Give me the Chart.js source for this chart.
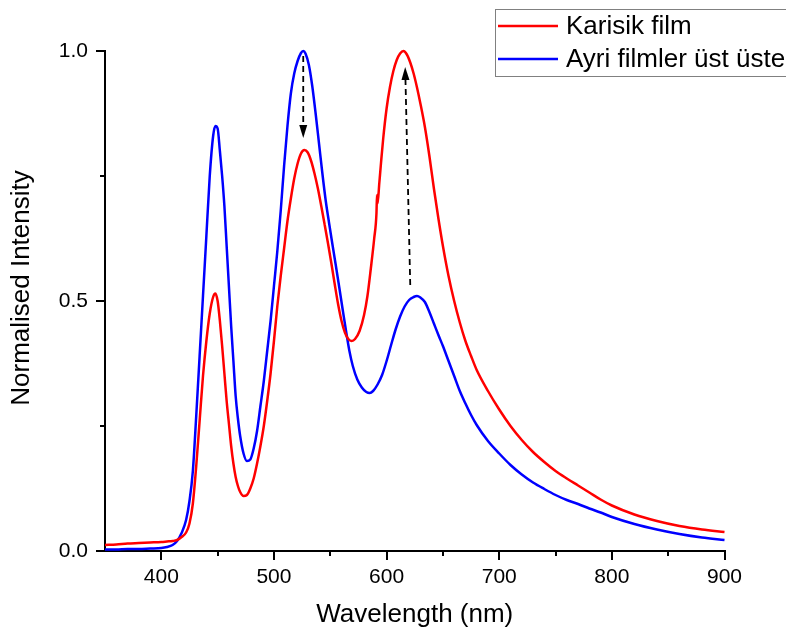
<!DOCTYPE html>
<html>
<head>
<meta charset="utf-8">
<script src="https://cdn.jsdelivr.net/npm/chart.js@4.4.1/dist/chart.umd.min.js"></script>
<style>
  html, body { margin: 0; padding: 0; background: #fff; }
  #wrap { width: 786px; height: 630px; position: relative; }
</style>
</head>
<body>
<div id="wrap"><canvas id="c" width="786" height="630"></canvas></div>
<script>
// ---- data ----
const seriesNames = ["Karisik film", "Ayri filmler üst üste"];
const xTitle = "Wavelength (nm)";
const yTitle = "Normalised Intensity";
const xTickValues = [400, 500, 600, 700, 800, 900];
const yTickValues = [0, 0.5, 1.0];

const wavelengthBlue = [350,360,370,380,390,400,405,410,414,418,422,425,428,431,434,437,440,443,446,448,450,452,454,456,458,460,462,464,466,468,470,473,476,479,482,485,488,491,494,497,500,503,506,509,512,515,518,521,524,526,528,531,534,537,540,543,546,549,552,555,558,561,564,567,570,574,578,582,585,588,592,596,600,604,608,612,616,620,624,627,630,634,638,642,646,650,655,660,665,670,675,680,690,700,710,720,730,740,750,760,770,780,790,800,820,840,860,880,900];
const blueValues = [0.003,0.003,0.004,0.004,0.005,0.006,0.008,0.012,0.02,0.036,0.062,0.10,0.16,0.27,0.39,0.51,0.63,0.75,0.83,0.85,0.845,0.80,0.75,0.69,0.61,0.53,0.45,0.38,0.31,0.265,0.23,0.195,0.18,0.183,0.205,0.24,0.29,0.34,0.40,0.46,0.53,0.60,0.68,0.77,0.85,0.915,0.955,0.98,0.996,1.0,0.995,0.972,0.93,0.875,0.815,0.755,0.70,0.655,0.612,0.57,0.527,0.483,0.44,0.40,0.37,0.343,0.327,0.318,0.316,0.32,0.333,0.352,0.38,0.412,0.443,0.469,0.489,0.502,0.508,0.51,0.507,0.498,0.478,0.455,0.432,0.41,0.38,0.35,0.32,0.295,0.272,0.252,0.22,0.195,0.172,0.153,0.137,0.124,0.112,0.102,0.094,0.085,0.077,0.068,0.054,0.043,0.034,0.027,0.022];

const wavelengthRed = [350,360,370,380,390,400,405,410,414,418,422,425,428,431,434,437,440,443,446,448,450,452,454,456,458,460,462,464,466,468,470,473,476,479,482,485,488,491,494,497,500,503,506,509,512,515,518,521,524,527,530,533,536,539,542,545,548,551,554,557,560,563,566,569,572,576,580,583,586,589,591,591.5,592,593.5,595,597,600,603,606,609,612,615,618,621,624,627,630,634,638,642,646,650,655,660,665,670,675,680,690,700,710,720,730,740,750,760,770,780,790,800,820,840,860,880,900];
const redValues = [0.012,0.013,0.015,0.016,0.017,0.018,0.019,0.02,0.022,0.028,0.037,0.055,0.095,0.17,0.26,0.35,0.42,0.475,0.508,0.515,0.50,0.46,0.41,0.355,0.30,0.255,0.21,0.175,0.148,0.13,0.118,0.11,0.112,0.125,0.145,0.175,0.21,0.25,0.30,0.355,0.42,0.49,0.55,0.605,0.66,0.705,0.745,0.775,0.795,0.802,0.797,0.78,0.755,0.725,0.69,0.653,0.615,0.575,0.533,0.493,0.46,0.437,0.424,0.42,0.424,0.44,0.472,0.51,0.565,0.625,0.675,0.712,0.695,0.735,0.775,0.825,0.885,0.928,0.96,0.982,0.995,1.0,0.993,0.977,0.955,0.927,0.895,0.848,0.79,0.725,0.665,0.61,0.55,0.50,0.457,0.42,0.39,0.362,0.32,0.283,0.25,0.222,0.198,0.178,0.16,0.145,0.131,0.117,0.103,0.091,0.073,0.06,0.05,0.043,0.038];

// arrows: [xStart, yStart, xEnd(tip), yEnd(tip)] in data units
const arrowDown = [526, 0.99, 526, 0.826];
const arrowUp = [621, 0.532, 616.5, 0.968];

const FONT = "'Liberation Sans', Arial, sans-serif";

const minorTicks = {
  id: 'minorTicks',
  afterDraw(chart) {
    const {ctx, scales: {x, y}} = chart;
    ctx.save();
    ctx.strokeStyle = '#000';
    ctx.lineWidth = 2;
    [450, 550, 650, 750, 850].forEach(v => {
      const px = Math.round(x.getPixelForValue(v));
      ctx.beginPath(); ctx.moveTo(px, y.bottom); ctx.lineTo(px, y.bottom + 5); ctx.stroke();
    });
    [0.25, 0.75].forEach(v => {
      const py = Math.round(y.getPixelForValue(v));
      ctx.beginPath(); ctx.moveTo(x.left, py); ctx.lineTo(x.left - 5, py); ctx.stroke();
    });
    // y axis title
    ctx.fillStyle = '#000';
    ctx.font = '26px ' + FONT;
    ctx.textAlign = 'center';
    ctx.textBaseline = 'middle';
    ctx.translate(22, 288);
    ctx.rotate(-Math.PI / 2);
    ctx.fillText(yTitle, 0, 0);
    ctx.restore();
  }
};

function drawArrow(ctx, x, y, a) {
  const x0 = x.getPixelForValue(a[0]), y0 = y.getPixelForValue(a[1]);
  const x1 = x.getPixelForValue(a[2]), y1 = y.getPixelForValue(a[3]);
  const ang = Math.atan2(y1 - y0, x1 - x0);
  const headLen = 13, headHalf = 4;
  const bx = x1 - headLen * Math.cos(ang), by = y1 - headLen * Math.sin(ang);
  ctx.save();
  ctx.strokeStyle = '#000';
  ctx.lineWidth = 1.8;
  ctx.setLineDash([6, 4]);
  ctx.beginPath(); ctx.moveTo(x0, y0); ctx.lineTo(bx, by); ctx.stroke();
  ctx.setLineDash([]);
  ctx.fillStyle = '#000';
  ctx.beginPath();
  ctx.moveTo(x1, y1);
  ctx.lineTo(bx + headHalf * Math.sin(ang), by - headHalf * Math.cos(ang));
  ctx.lineTo(bx - headHalf * Math.sin(ang), by + headHalf * Math.cos(ang));
  ctx.closePath(); ctx.fill();
  ctx.restore();
}

const overlays = {
  id: 'overlays',
  afterDatasetsDraw(chart) {
    const {ctx, scales: {x, y}} = chart;
    drawArrow(ctx, x, y, arrowDown);
    drawArrow(ctx, x, y, arrowUp);
    // legend box
    ctx.save();
    ctx.fillStyle = '#fff';
    ctx.fillRect(495.5, 9.5, 300, 67);
    ctx.strokeStyle = '#808080';
    ctx.lineWidth = 1;
    ctx.strokeRect(495.5, 9.5, 300, 67);
    const colors = ['#ff0000', '#0000ff'];
    const rows = [26, 59];
    ctx.font = '26px ' + FONT;
    ctx.textAlign = 'left';
    ctx.textBaseline = 'middle';
    seriesNames.forEach((n, i) => {
      ctx.strokeStyle = colors[i];
      ctx.lineWidth = 2.5;
      ctx.beginPath(); ctx.moveTo(498, rows[i]); ctx.lineTo(558, rows[i]); ctx.stroke();
      ctx.fillStyle = '#000';
      ctx.fillText(n, 566, rows[i] + 1);
    });
    ctx.restore();
  }
};

new Chart(document.getElementById('c'), {
  type: 'line',
  data: {
    datasets: [
      {
        label: seriesNames[0],
        data: wavelengthRed.map((w, i) => ({x: w, y: redValues[i]})),
        borderColor: '#ff0000', borderWidth: 2.5, pointRadius: 0,
        cubicInterpolationMode: 'monotone', fill: false, clip: 6
      },
      {
        label: seriesNames[1],
        data: wavelengthBlue.map((w, i) => ({x: w, y: blueValues[i]})),
        borderColor: '#0000ff', borderWidth: 2.5, pointRadius: 0,
        cubicInterpolationMode: 'monotone', fill: false, clip: 6
      }
    ]
  },
  options: {
    responsive: false,
    animation: false,
    events: [],
    layout: { padding: { top: 51, right: 61.5, bottom: 0, left: 0 } },
    plugins: { legend: { display: false }, tooltip: { enabled: false } },
    scales: {
      x: {
        type: 'linear', min: 350, max: 900,
        afterFit(s) { s.height = 79; },
        afterBuildTicks(s) { s.ticks = xTickValues.map(v => ({value: v})); },
        ticks: { stepSize: 100, color: '#000', padding: 5, maxRotation: 0,
                 font: { family: FONT, size: 21 }, callback: v => String(v) },
        grid: { display: true, drawOnChartArea: false, drawTicks: true, tickLength: 9, color: '#000', lineWidth: 2 },
        border: { display: true, color: '#000', width: 2 },
        title: { display: true, text: xTitle, color: '#000', font: { family: FONT, size: 26 }, padding: { top: 0, bottom: 0 } }
      },
      y: {
        type: 'linear', min: 0, max: 1,
        afterFit(s) { s.width = 105; },
        afterBuildTicks(s) { s.ticks = yTickValues.map(v => ({value: v})); },
        ticks: { color: '#000', padding: 8, font: { family: FONT, size: 21 }, callback: v => v.toFixed(1) },
        grid: { display: true, drawOnChartArea: false, drawTicks: true, tickLength: 9, color: '#000', lineWidth: 2 },
        border: { display: true, color: '#000', width: 2 }
      }
    }
  },
  plugins: [minorTicks, overlays]
});
</script>
</body>
</html>
